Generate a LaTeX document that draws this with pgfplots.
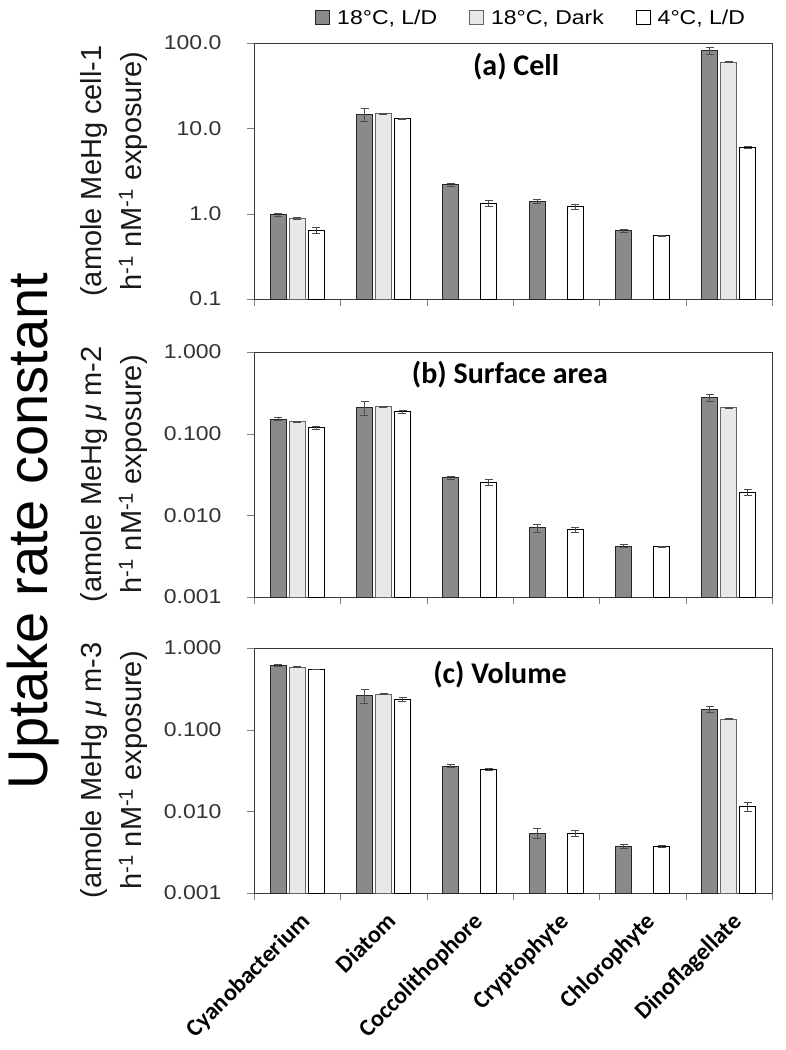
\documentclass[border=0pt]{standalone}
\usepackage{pgfplots}
\usepackage{pgfplotstable}
\pgfplotsset{compat=1.18}
\usepackage{fontspec}
\setmainfont{Liberation Sans}
\newfontfamily\calib{Carlito}
\newfontfamily\wide[FakeStretch=1.15]{Liberation Sans}
\definecolor{dkbar}{RGB}{138,138,138}
\definecolor{ltbar}{RGB}{232,232,232}
\definecolor{axgray}{RGB}{55,55,55}

% ---- panel (a) Cell
\pgfplotstableread{
x y e
0 0.97 0.03
1 14.6 2.5
2 2.19 0.10
3 1.38 0.07
4 0.63 0.02
5 81 7
}\aD
\pgfplotstableread{
x y e
0 0.88 0.03
1 14.8 0.1
5 59.6 0.5
}\aL
\pgfplotstableread{
x y e
0 0.64 0.05
1 12.9 0.3
2 1.32 0.10
3 1.20 0.09
4 0.55 0.01
5 6.0 0.2
}\aW
% ---- panel (b) Surface area
\pgfplotstableread{
x y e
0 0.150 0.006
1 0.207 0.040
2 0.0289 0.001
3 0.0070 0.0008
4 0.0042 0.0002
5 0.275 0.025
}\bD
\pgfplotstableread{
x y e
0 0.139 0.002
1 0.213 0.003
5 0.207 0.003
}\bL
\pgfplotstableread{
x y e
0 0.118 0.004
1 0.185 0.006
2 0.0254 0.002
3 0.0067 0.0005
4 0.0041 0.0001
5 0.019 0.0017
}\bW
% ---- panel (c) Volume
\pgfplotstableread{
x y e
0 0.617 0.020
1 0.260 0.050
2 0.0355 0.0015
3 0.0054 0.0008
4 0.00376 0.0002
5 0.177 0.015
}\cD
\pgfplotstableread{
x y e
0 0.583 0.005
1 0.272 0.005
5 0.135 0.002
}\cL
\pgfplotstableread{
x y e
0 0.547 0.005
1 0.235 0.012
2 0.0323 0.001
3 0.0054 0.0005
4 0.0037 0.0001
5 0.0115 0.0015
}\cW

\pgfplotsset{
  every axis/.append style={
    scale only axis, width=518pt,
    xmin=-0.5, xmax=5.5,
    bar width=16pt,
    xtick={-0.5,0.5,1.5,2.5,3.5,4.5,5.5}, xticklabels={},
    tick align=outside, tick pos=left,
    major tick length=7pt,
    axis line style={axgray, line width=1pt},
    yticklabel style={font=\wide\fontsize{20}{22}\selectfont, text=black!80, xshift=-22pt},
    ylabel style={at={(axis description cs:-0.198,0.5)}, anchor=south, align=center,
                  font=\fontsize{29}{40}\selectfont, text=black!90},
  },
  sD/.style={fill=dkbar, draw=black!85, line width=1pt,
    error bars/.cd, y dir=both, y explicit,
    error bar style={black!70, line width=0.9pt},
    error mark options={rotate=90, mark size=4pt, black!70, line width=0.9pt}},
  sL/.style={fill=ltbar, draw=black!60, line width=1pt,
    error bars/.cd, y dir=both, y explicit,
    error bar style={black!70, line width=0.9pt},
    error mark options={rotate=90, mark size=4pt, black!70, line width=0.9pt}},
  sW/.style={fill=white, draw=black, line width=1pt,
    error bars/.cd, y dir=both, y explicit,
    error bar style={black!70, line width=0.9pt},
    error mark options={rotate=90, mark size=4pt, black!70, line width=0.9pt}},
}

\begin{document}
\begin{tikzpicture}
\useasboundingbox (0pt,0pt) rectangle (786pt,-1050pt);

\node[rotate=90, font=\fontsize{56}{60}\selectfont] at (33pt,-531pt) {Uptake rate constant};

% (a)
\begin{axis}[at={(254pt,-299pt)}, anchor=south west, height=256pt,
  ymode=log, log origin=infty, ybar=3pt,
  ymin=0.1, ymax=100, ytick={0.1,1,10,100}, yticklabels={0.1,1.0,10.0,100.0},
  yminorticks=false,
  ylabel={(amole MeHg cell-1\\h\textsuperscript{-1} nM\textsuperscript{-1} exposure)},
  legend columns=3,
  legend image code/.code={\draw[#1, line width=0.9pt] (0pt,-7pt) rectangle (14pt,7pt);},
  legend style={at={(0.535,1)}, anchor=south, yshift=13pt, draw=none, fill=none,
    font=\wide\fontsize{20}{22}\selectfont,
    /tikz/every odd column/.append style={column sep=5pt},
    /tikz/every even column/.append style={column sep=30pt}},
]
\addplot[sD] table[x=x,y=y,y error=e]{\aD};
\addlegendentry{18°C, L/D}
\addplot[sL] table[x=x,y=y,y error=e]{\aL};
\addlegendentry{18°C, Dark}
\addplot[sW] table[x=x,y=y,y error=e]{\aW};
\addlegendentry{4°C, L/D}
\node[font=\calib\bfseries\fontsize{30}{32}\selectfont] at (rel axis cs:0.506,0.906) {(a) Cell};
\end{axis}

% (b)
\begin{axis}[at={(254pt,-597pt)}, anchor=south west, height=245pt,
  ymode=log, log origin=infty, ybar=3pt,
  ymin=0.001, ymax=1, ytick={0.001,0.01,0.1,1}, yticklabels={0.001,0.010,0.100,1.000},
  yminorticks=false,
  ylabel={(amole MeHg \textit{μ} m-2\\h\textsuperscript{-1} nM\textsuperscript{-1} exposure)},
]
\addplot[sD] table[x=x,y=y,y error=e]{\bD};
\addplot[sL] table[x=x,y=y,y error=e]{\bL};
\addplot[sW] table[x=x,y=y,y error=e]{\bW};
\node[font=\calib\bfseries\fontsize{30}{32}\selectfont] at (rel axis cs:0.494,0.906) {(b) Surface area};
\end{axis}

% (c)
\begin{axis}[at={(254pt,-893pt)}, anchor=south west, height=245pt,
  ymode=log, log origin=infty, ybar=3pt,
  ymin=0.001, ymax=1, ytick={0.001,0.01,0.1,1}, yticklabels={0.001,0.010,0.100,1.000},
  yminorticks=false,
  ylabel={(amole MeHg \textit{μ} m-3\\h\textsuperscript{-1} nM\textsuperscript{-1} exposure)},
  extra x ticks={0,1,2,3,4,5},
  extra x tick labels={Cyanobacterium,Diatom,Coccolithophore,Cryptophyte,Chlorophyte,Dinoflagellate},
  extra x tick style={major tick length=0pt,
    xticklabel style={font=\calib\bfseries\fontsize{24}{26}\selectfont,
      xshift=2pt, yshift=-13pt, rotate=45, anchor=north east}},
]
\addplot[sD] table[x=x,y=y,y error=e]{\cD};
\addplot[sL] table[x=x,y=y,y error=e]{\cL};
\addplot[sW] table[x=x,y=y,y error=e]{\cW};
\node[font=\calib\bfseries\fontsize{30}{32}\selectfont] at (rel axis cs:0.475,0.89) {(c) Volume};
\end{axis}
\end{tikzpicture}
\end{document}
